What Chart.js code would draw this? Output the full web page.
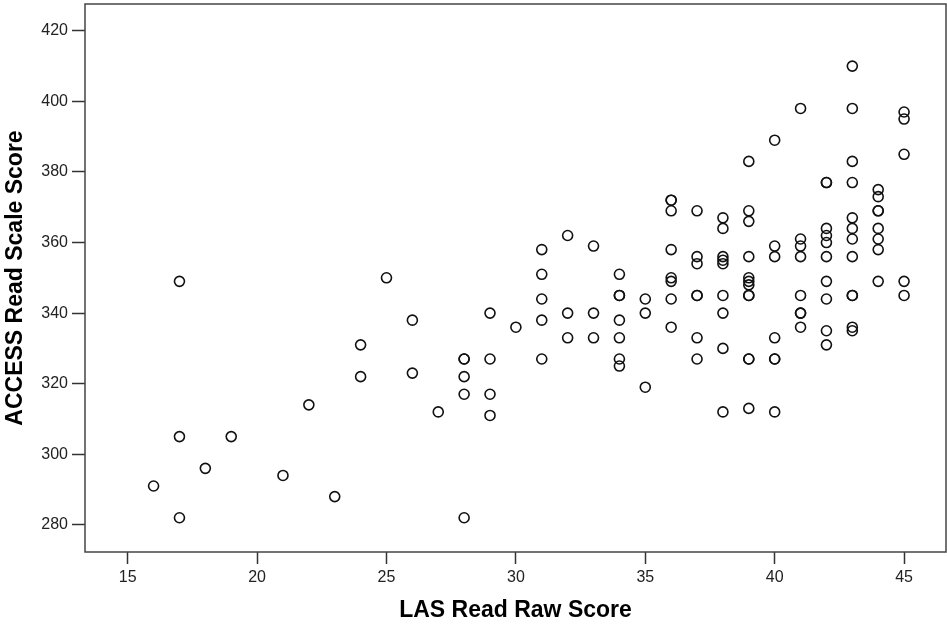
<!DOCTYPE html>
<html>
<head>
<meta charset="utf-8">
<script src="https://cdn.jsdelivr.net/npm/chart.js@4"></script>
<style>
  html, body { margin: 0; padding: 0; background: #fff; }
  #wrap { width: 947px; height: 626px; }
</style>
</head>
<body>
<div id="wrap"><canvas id="scatter" width="947" height="626"></canvas></div>
<script>
// LAS raw score (x) paired with ACCESS scale score (y), one entry per student
const lasRaw = [
  16,
  17, 17, 17,
  18, 19, 21, 22, 23,
  24, 24, 25, 26, 26, 27,
  28, 28, 28, 28, 28,
  29, 29, 29, 29,
  30,
  31, 31, 31, 31, 31,
  32, 32, 32,
  33, 33, 33,
  34, 34, 34, 34, 34, 34, 34,
  35, 35, 35,
  36, 36, 36, 36, 36, 36, 36, 36,
  37, 37, 37, 37, 37, 37, 37,
  38, 38, 38, 38, 38, 38, 38, 38, 38,
  39, 39, 39, 39, 39, 39, 39, 39, 39, 39, 39, 39,
  40, 40, 40, 40, 40, 40, 40,
  41, 41, 41, 41, 41, 41, 41, 41,
  42, 42, 42, 42, 42, 42, 42, 42, 42, 42,
  43, 43, 43, 43, 43, 43, 43, 43, 43, 43, 43, 43,
  44, 44, 44, 44, 44, 44, 44, 44,
  45, 45, 45, 45, 45
];
const accessScale = [
  291,
  349, 305, 282,
  296, 305, 294, 314, 288,
  331, 322, 350, 338, 323, 312,
  327, 327, 322, 317, 282,
  340, 327, 317, 311,
  336,
  358, 351, 344, 338, 327,
  362, 340, 333,
  359, 340, 333,
  351, 345, 345, 338, 333, 327, 325,
  344, 340, 319,
  372, 372, 369, 358, 350, 349, 344, 336,
  369, 356, 354, 345, 345, 333, 327,
  367, 364, 356, 355, 354, 345, 340, 330, 312,
  383, 369, 366, 356, 350, 349, 348, 345, 345, 327, 327, 313,
  389, 359, 356, 333, 327, 327, 312,
  398, 361, 359, 356, 345, 340, 340, 336,
  377, 377, 364, 362, 360, 356, 349, 344, 335, 331,
  410, 398, 383, 377, 367, 364, 361, 356, 345, 345, 336, 335,
  375, 373, 369, 369, 364, 361, 358, 349,
  397, 395, 385, 349, 345
];
const xTicks = [15, 20, 25, 30, 35, 40, 45];
const yTicks = [280, 300, 320, 340, 360, 380, 400, 420];

const points = lasRaw.map((x, i) => ({ x: x, y: accessScale[i] }));

// box round the plot area, like the SPSS frame
const frame = {
  id: 'frame',
  afterDraw(chart) {
    const { ctx, chartArea: a } = chart;
    ctx.save();
    ctx.strokeStyle = '#444';
    ctx.lineWidth = 1.5;
    ctx.strokeRect(a.left, a.top, a.right - a.left, a.bottom - a.top);
    ctx.restore();
  }
};

const tickFont = { family: 'Liberation Sans, Arial, sans-serif', size: 16 };
const titleFont = { family: 'Liberation Sans, Arial, sans-serif', size: 23, weight: 'bold' };

new Chart(document.getElementById('scatter'), {
  type: 'scatter',
  data: {
    datasets: [{
      data: points,
      pointStyle: 'circle',
      pointRadius: 5,
      pointHoverRadius: 5,
      pointBorderWidth: 1.6,
      borderColor: '#111',
      backgroundColor: 'rgba(0,0,0,0)'
    }]
  },
  options: {
    responsive: false,
    animation: false,
    layout: { autoPadding: false, padding: { top: 4, right: 1, left: 0, bottom: 0 } },
    plugins: { legend: { display: false }, tooltip: { enabled: false } },
    scales: {
      x: {
        type: 'linear',
        min: 13.35,
        max: 46.62,
        afterBuildTicks: s => { s.ticks = xTicks.map(v => ({ value: v })); },
        afterFit: s => { s.height = 74; s.paddingLeft = 0; s.paddingRight = 0; },
        border: { display: false },
        grid: { drawOnChartArea: false, drawTicks: true, tickLength: 12, tickColor: '#333', tickWidth: 1.5 },
        ticks: { font: tickFont, color: '#222', padding: 4, maxRotation: 0 },
        title: { display: true, text: 'LAS Read Raw Score', font: titleFont, color: '#000', padding: { top: 0, bottom: 2 } }
      },
      y: {
        type: 'linear',
        min: 272.3,
        max: 427.6,
        afterBuildTicks: s => { s.ticks = yTicks.map(v => ({ value: v })); },
        afterFit: s => { s.width = 85; s.paddingTop = 0; s.paddingBottom = 0; },
        border: { display: false },
        grid: { drawOnChartArea: false, drawTicks: true, tickLength: 13, tickColor: '#333', tickWidth: 1.5 },
        ticks: { font: tickFont, color: '#222', padding: 4 },
        title: { display: true, text: 'ACCESS Read Scale Score', font: titleFont, color: '#000', padding: { top: 2, bottom: 0 } }
      }
    }
  },
  plugins: [frame]
});
</script>
</body>
</html>
